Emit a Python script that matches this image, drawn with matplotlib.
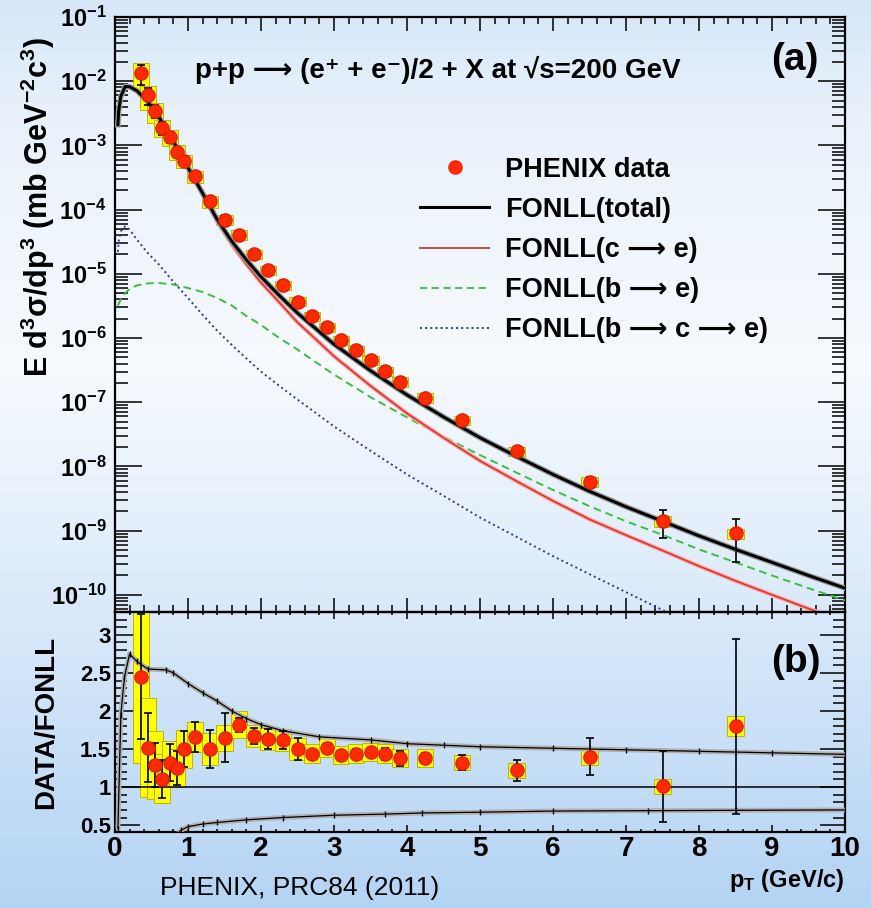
import matplotlib.pyplot as plt
import numpy as np
from matplotlib.patches import Rectangle
from matplotlib.lines import Line2D
from matplotlib.colors import LinearSegmentedColormap
from matplotlib.ticker import LogLocator, NullFormatter, FixedLocator, MultipleLocator, FuncFormatter
import matplotlib.patheffects as pe

plt.rcParams['font.family'] = ['Liberation Sans', 'DejaVu Sans']
plt.rcParams['font.weight'] = 'bold'
plt.rcParams['mathtext.fontset'] = 'custom'
plt.rcParams['mathtext.rm'] = 'Liberation Sans:bold'
plt.rcParams['mathtext.it'] = 'Liberation Sans:bold'
plt.rcParams['mathtext.bf'] = 'Liberation Sans:bold'

# PHENIX heavy flavour electrons
pt = [0.35, 0.45, 0.55, 0.65, 0.75, 0.85, 0.95, 1.1, 1.3, 1.5, 1.7, 1.9, 2.1, 2.3,
      2.5, 2.7, 2.9, 3.1, 3.3, 3.5, 3.7, 3.9, 4.25, 4.75, 5.5, 6.5, 7.5, 8.5]
xsec = [1.33e-2, 6.0e-3, 3.45e-3, 1.9e-3, 1.35e-3, 8.0e-4, 5.8e-4, 3.3e-4, 1.34e-4,
        7.0e-5, 4.07e-5, 2.04e-5, 1.14e-5, 6.6e-6, 3.7e-6, 2.2e-6, 1.49e-6, 9.2e-7,
        6.5e-7, 4.5e-7, 3.05e-7, 2.08e-7, 1.18e-7, 5.3e-8, 1.74e-8, 5.8e-9, 1.41e-9, 9.1e-10]
xsec_sys_rel = [0.45, 0.40, 0.35, 0.30, 0.28, 0.26, 0.24, 0.20, 0.20, 0.18, 0.17, 0.16,
                0.16, 0.16, 0.16, 0.16, 0.16, 0.16, 0.16, 0.16, 0.16, 0.17, 0.17, 0.17,
                0.17, 0.18, 0.18, 0.18]
ratio = [2.45, 1.52, 1.29, 1.11, 1.32, 1.25, 1.50, 1.66, 1.50, 1.65, 1.82, 1.67, 1.63, 1.62,
         1.50, 1.44, 1.52, 1.42, 1.44, 1.46, 1.44, 1.38, 1.38, 1.32, 1.22, 1.40, 1.01, 1.80]
ratio_stat = [0.82, 0.45, 0.29, 0.25, 0.24, 0.22, 0.24, 0.20, 0.25, 0.32, 0.09, 0.11, 0.13, 0.12,
              0.15, 0.05, 0.05, 0.05, 0.06, 0.06, 0.08, 0.10, 0.07, 0.10, 0.14, 0.24, 0.47, 1.15]
ratio_sys = [1.13, 0.65, 0.45, 0.32, 0.29, 0.25, 0.25, 0.20, 0.21, 0.17, 0.18, 0.14, 0.14, 0.14,
             0.14, 0.13, 0.13, 0.12, 0.12, 0.12, 0.12, 0.12, 0.12, 0.10, 0.10, 0.11, 0.10, 0.13]

# FONLL curves
fonll_pt = [0.04, 0.05, 0.08, 0.14, 0.2, 0.3, 0.45, 0.6, 0.8, 1.0, 1.2, 1.4, 1.6, 1.8, 2.0,
            2.25, 2.5, 2.75, 3.0, 3.5, 4.0, 4.5, 5.0, 5.5, 6.0, 6.5, 7.0, 7.5, 8.0, 8.5,
            9.0, 9.5, 10.0]
fonll_total = [2.1e-3, 3.4e-3, 5.8e-3, 8.3e-3, 8.2e-3, 7.1e-3, 4.8e-3, 2.8e-3, 1.15e-3,
               4.5e-4, 1.8e-4, 7.0e-5, 3.2e-5, 1.65e-5, 9.0e-6, 4.6e-6, 2.45e-6, 1.4e-6,
               8.0e-7, 3.1e-7, 1.3e-7, 5.9e-8, 2.8e-8, 1.43e-8, 7.5e-9, 4.1e-9, 2.35e-9,
               1.4e-9, 8.3e-10, 5.1e-10, 3.2e-10, 2.0e-10, 1.27e-10]
fonll_c = [2.08e-3, 3.37e-3, 5.75e-3, 8.2e-3, 8.1e-3, 7.0e-3, 4.75e-3, 2.77e-3, 1.13e-3,
           4.4e-4, 1.72e-4, 6.5e-5, 2.85e-5, 1.4e-5, 7.3e-6, 3.6e-6, 1.75e-6, 9.6e-7,
           5.2e-7, 1.8e-7, 6.7e-8, 2.8e-8, 1.22e-8, 5.9e-9, 2.9e-9, 1.5e-9, 8.5e-10,
           4.9e-10, 2.8e-10, 1.65e-10, 1.0e-10, 6.1e-11, 3.8e-11]
fonll_b = [3.2e-6, 3.4e-6, 4.0e-6, 5.0e-6, 5.8e-6, 6.6e-6, 7.1e-6, 7.2e-6, 6.8e-6, 6.0e-6,
           5.2e-6, 4.2e-6, 3.2e-6, 2.2e-6, 1.6e-6, 1.0e-6, 6.6e-7, 4.2e-7, 2.7e-7, 1.2e-7,
           5.8e-8, 2.9e-8, 1.5e-8, 8.0e-9, 4.3e-9, 2.4e-9, 1.4e-9, 8.6e-10, 5.1e-10,
           3.2e-10, 2.0e-10, 1.27e-10, 8.2e-11]
fonll_bc = [2.2e-5, 3.2e-5, 4.6e-5, 5.5e-5, 4.9e-5, 3.4e-5, 2.1e-5, 1.4e-5, 7.5e-6, 4.2e-6,
            2.3e-6, 1.3e-6, 7.8e-7, 4.8e-7, 3.0e-7, 1.8e-7, 1.1e-7, 6.8e-8, 4.2e-8, 1.75e-8,
            7.5e-9, 3.5e-9, 1.6e-9, 8.0e-10, 4.0e-10, 2.1e-10, 1.1e-10, 5.8e-11, 3.0e-11,
            np.nan, np.nan, np.nan, np.nan]

# FONLL uncertainty band (ratio panel)
band_hi_pt = [0.04, 0.08, 0.13, 0.2, 0.3, 0.45, 0.7, 0.8, 1.0, 1.2, 1.4, 1.6, 1.8, 2.0,
              2.3, 2.8, 3.5, 4.0, 4.5, 5.0, 6.0, 7.0, 8.0, 9.0, 10.0]
band_hi = [0.45, 1.95, 2.45, 2.75, 2.65, 2.55, 2.54, 2.50, 2.36, 2.24, 2.13, 2.00, 1.90, 1.82,
           1.74, 1.66, 1.62, 1.57, 1.55, 1.53, 1.51, 1.49, 1.47, 1.45, 1.43]
band_lo_pt = [0.85, 0.9, 1.0, 1.2, 1.4, 1.8, 2.3, 3.0, 3.7, 4.2, 5.0, 6.0, 7.3, 8.5, 10.0]
band_lo = [0.38, 0.43, 0.48, 0.515, 0.535, 0.57, 0.60, 0.63, 0.645, 0.66, 0.67, 0.685, 0.69,
           0.695, 0.70]

box_w = 0.22
arrow = '\u27f6'

fig = plt.figure(figsize=(8.71, 9.08), dpi=100)

# slide background gradient
bg = fig.add_axes([0, 0, 1, 1], zorder=-10)
cmap = LinearSegmentedColormap.from_list('bg', [(0.0, '#d6e7f8'), (0.12, '#e8f1fb'),
                                                (0.4, '#f7fafe'), (0.62, '#e0edfb'),
                                                (1.0, '#b4d4f4')])
bg.imshow(np.linspace(0, 1, 256)[:, None], aspect='auto', cmap=cmap, extent=[0, 1, 0, 1])
bg.axis('off')

W, H = 871.0, 908.0
ax1 = fig.add_axes([115 / W, 1 - 612 / H, 730 / W, 595 / H])
ax2 = fig.add_axes([115 / W, 1 - 832 / H, 730 / W, 220 / H])
for ax in (ax1, ax2):
    ax.set_facecolor('none')
    for s in ax.spines.values():
        s.set_linewidth(1.6)

xsec_a = np.array(xsec)
stat_rel = np.array(ratio_stat) / np.array(ratio)

# ---- top panel
ax1.set_yscale('log')
for x, y, r in zip(pt, xsec, xsec_sys_rel):
    ax1.add_patch(Rectangle((x - box_w / 2, y * (1 - r)), box_w, y * 2 * r,
                            facecolor='#ffff00', edgecolor='#b8a800', lw=0.6, zorder=2))

ax1.plot(fonll_pt, fonll_bc, color='#2838a8', ls=':', lw=1.4, zorder=3)
ax1.plot(fonll_pt, fonll_b, color='#3cc03c', ls=(0, (4, 2.5)), lw=1.4, zorder=3)
ax1.plot(fonll_pt, fonll_c, color='#e8302a', lw=1.2, zorder=3,
         path_effects=[pe.Stroke(linewidth=3, foreground='#f2aaaa'), pe.Normal()])
ax1.plot(fonll_pt, fonll_total, color='k', lw=2.2, zorder=3,
         path_effects=[pe.Stroke(linewidth=4, foreground='#a0a0a0'), pe.Normal()])

ax1.errorbar(pt, xsec, yerr=xsec_a * stat_rel, fmt='none', ecolor='k', elinewidth=1.2,
             capsize=3, capthick=1.2, zorder=4)
ax1.plot(pt, xsec, 'o', color='#ff2a00', mec='#e02000', ms=9.5, zorder=5)

ax1.set_xlim(0, 10)
ax1.set_ylim(5.4e-11, 0.1)
ax1.yaxis.set_major_locator(FixedLocator([10.0 ** e for e in range(-10, 0)]))
ax1.yaxis.set_major_formatter(FuncFormatter(lambda v, p: r'$10^{%d}$' % round(np.log10(v))))
ax1.yaxis.set_minor_locator(LogLocator(base=10, subs=np.arange(2, 10), numticks=30))
ax1.yaxis.set_minor_formatter(NullFormatter())
ax1.xaxis.set_major_locator(MultipleLocator(1))
ax1.xaxis.set_minor_locator(MultipleLocator(0.2))
ax1.tick_params(which='both', direction='in', top=True, right=True, width=1.1)
ax1.tick_params(axis='x', which='major', length=10, labelbottom=False)
ax1.tick_params(axis='x', which='minor', length=5)
ax1.tick_params(axis='y', which='major', length=19.5, labelsize=17, pad=6)
ax1.tick_params(axis='y', which='minor', length=9.5)

handles = [Line2D([], [], marker='o', color='#ff2a00', ls='none', ms=9.5),
           Line2D([], [], color='k', lw=2.2),
           Line2D([], [], color='#c05040', lw=1.4),
           Line2D([], [], color='#3cc03c', ls=(0, (4, 2.5)), lw=1.3),
           Line2D([], [], color='#2838a8', ls=':', lw=1.4)]
labels = ['PHENIX data', 'FONLL(total)', 'FONLL(c %s e)' % arrow, 'FONLL(b %s e)' % arrow,
          'FONLL(b %s c %s e)' % (arrow, arrow)]
ax1.legend(handles, labels, loc='upper left', bbox_to_anchor=(0.418, 0.765), frameon=False,
           fontsize=19.5, borderpad=0, borderaxespad=0, handlelength=2.55, handletextpad=0.6,
           labelspacing=0.52)

# ---- ratio panel
for x, y, s in zip(pt, ratio, ratio_sys):
    ax2.add_patch(Rectangle((x - box_w / 2, y - s), box_w, 2 * s,
                            facecolor='#ffff00', edgecolor='#b8a800', lw=0.6, zorder=2))
ax2.axhline(1.0, color='k', lw=1.1, zorder=3)
for bx, by in ((band_hi_pt, band_hi), (band_lo_pt, band_lo)):
    ax2.plot(bx, by, color='#b0b0b0', lw=3.5, zorder=3, solid_capstyle='butt')
    ax2.plot(bx, by, color='k', lw=0.9, marker='|', ms=4, mew=1, markevery=0.0096, zorder=3)
ax2.errorbar(pt, ratio, yerr=ratio_stat, fmt='none', ecolor='k', elinewidth=1.2,
             capsize=3, capthick=1.2, zorder=4)
ax2.plot(pt, ratio, 'o', color='#ff2a00', mec='#e02000', ms=9.5, zorder=5)

ax2.set_xlim(0, 10)
ax2.set_ylim(0.41, 3.3)
ax2.xaxis.set_major_locator(MultipleLocator(1))
ax2.xaxis.set_minor_locator(MultipleLocator(0.2))
ax2.yaxis.set_major_locator(MultipleLocator(0.5))
ax2.yaxis.set_minor_locator(MultipleLocator(0.1))
ax2.yaxis.set_major_formatter(FuncFormatter(lambda v, p: '%g' % v))
ax2.tick_params(which='both', direction='in', top=True, right=True, width=1.1)
ax2.tick_params(axis='x', which='major', length=5, labelsize=20, pad=3)
ax2.tick_params(axis='x', which='minor', length=2.5)
ax2.tick_params(axis='y', which='major', length=18, labelsize=16, pad=3)
ax2.tick_params(axis='y', which='minor', length=8.6)

# ---- texts
fig.text(195 / W, 1 - 70 / H,
         'p+p %s (e\u207a + e\u207b)/2 + X at \u221as=200 GeV' % arrow,
         fontsize=20, ha='left', va='center')
fig.text(795 / W, 1 - 60 / H, '(a)', fontsize=28, ha='center', va='center')
fig.text(796 / W, 1 - 662 / H, '(b)', fontsize=28, ha='center', va='center')
fig.text(38 / W, 1 - 207 / H, r'E d$^{3}\sigma$/dp$^{3}$ (mb GeV$^{-2}$c$^{3}$)',
         fontsize=22, rotation=90, ha='center', va='center')
fig.text(46 / W, 1 - 722 / H, 'DATA/FONLL', fontsize=20, rotation=90, ha='center', va='center')
fig.text(845 / W, 1 - 880 / H, r'p$_{T}$ (GeV/c)', fontsize=17, ha='right', va='center')
fig.text(160 / W, 1 - 888 / H, 'PHENIX, PRC84 (2011)', fontsize=19, fontweight='normal',
         ha='left', va='center')

fig.savefig('out.png', dpi=100)
